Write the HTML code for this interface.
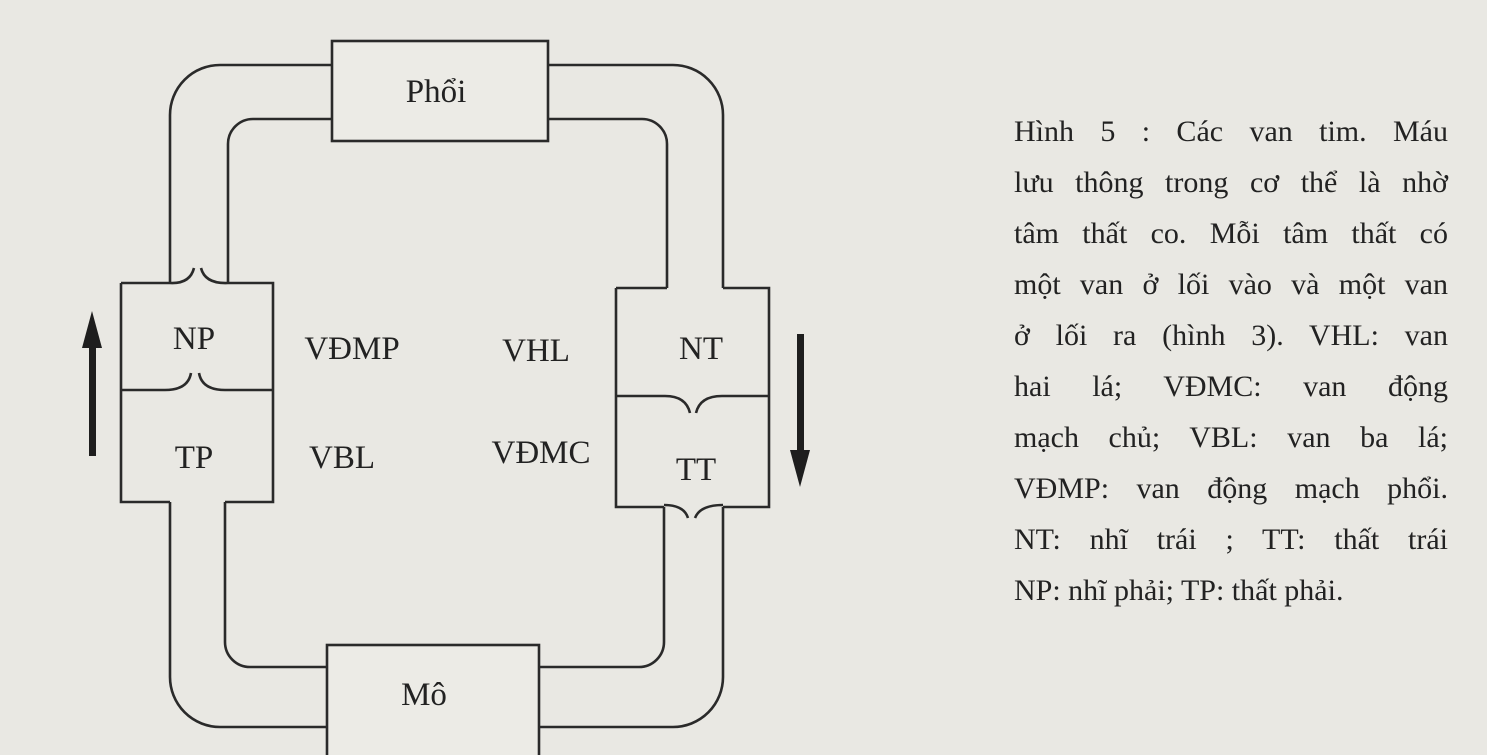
<!DOCTYPE html>
<html><head><meta charset="utf-8">
<style>
html,body{margin:0;padding:0}
body{width:1487px;height:755px;background:#e9e8e3;position:relative;overflow:hidden;font-family:"Liberation Serif",serif;color:#222}
.cap{position:absolute;left:1014px;top:106px;width:434px;font-size:30px;line-height:51px}
.cap div{text-align:justify;text-align-last:justify;white-space:nowrap;height:51px}
.cap div.l{text-align-last:left}
svg{position:absolute;left:0;top:0}
</style></head><body>
<svg width="1487" height="755" viewBox="0 0 1487 755">
<g fill="none" stroke="#2a2a2a" stroke-width="2.6">
<rect x="332" y="41" width="216" height="100" fill="#ecebe6"/>
<rect x="327" y="645" width="212" height="115" fill="#ecebe6"/>
<path d="M170,284 V115 A50,50 0 0 1 220,65 H332"/>
<path d="M228,284 V144 A25,25 0 0 1 253,119 H332"/>
<path d="M548,65 H673 A50,50 0 0 1 723,115 V288"/>
<path d="M548,119 H642 A25,25 0 0 1 667,144 V288"/>
<path d="M170,502 V677 A50,50 0 0 0 220,727 H327"/>
<path d="M225,502 V642 A25,25 0 0 0 250,667 H327"/>
<path d="M539,667 H639 A25,25 0 0 0 664,642 V507"/>
<path d="M539,727 H673 A50,50 0 0 0 723,677 V507"/>
<path d="M121,283 V502 H170 M225,502 H273 V283 H228 M121,283 H170"/>
<path d="M170,283 Q190,284 194,268 M228,283 Q205,284 201,268"/>
<path d="M121,390 H165 Q188,390 191,373 M273,390 H225 Q202,390 199,373"/>
<path d="M616,288 H667 M723,288 H769 V507 H723 M664,507 H616 V288"/>
<path d="M616,396 H665 Q686,396 690,413 M769,396 H722 Q700,396 696,413"/>
<path d="M664,505 Q684,505 688,518 M723,505 Q700,505 695,518"/>
</g>
<g fill="#1e1e1e">
<rect x="89" y="340" width="7" height="116"/>
<polygon points="92,311 82,348 102,348"/>
<rect x="797" y="334" width="7" height="120"/>
<polygon points="800,487 790,450 810,450"/>
</g>
<g font-family="Liberation Serif, serif" font-size="33" fill="#222" text-anchor="middle">
<text x="436" y="102">Phổi</text>
<text x="424" y="705">Mô</text>
<text x="194" y="349">NP</text>
<text x="194" y="468">TP</text>
<text x="352" y="359">VĐMP</text>
<text x="536" y="361">VHL</text>
<text x="342" y="468">VBL</text>
<text x="541" y="463">VĐMC</text>
<text x="701" y="359">NT</text>
<text x="696" y="480">TT</text>
</g>
</svg>
<div class="cap">
<div>Hình 5 : Các van tim. Máu</div>
<div>lưu thông trong cơ thể là nhờ</div>
<div>tâm thất co. Mỗi tâm thất có</div>
<div>một van ở lối vào và một van</div>
<div>ở lối ra (hình 3). VHL: van</div>
<div>hai lá; VĐMC: van động</div>
<div>mạch chủ; VBL: van ba lá;</div>
<div>VĐMP: van động mạch phổi.</div>
<div>NT: nhĩ trái ; TT: thất trái</div>
<div class="l">NP: nhĩ phải; TP: thất phải.</div>
</div>
</body></html>
